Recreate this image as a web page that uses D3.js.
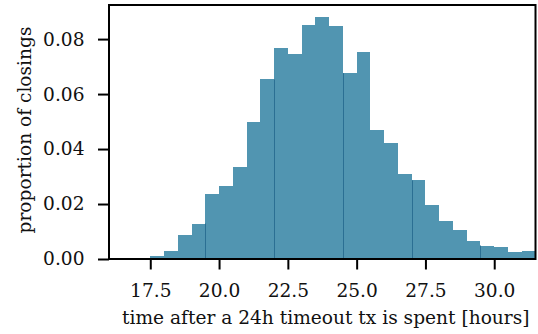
<!DOCTYPE html>
<html><head><meta charset="utf-8">
<script src="https://cdn.jsdelivr.net/npm/d3@7"></script>
<style>
html,body{margin:0;padding:0;background:#fff;}
svg{display:block;font-family:"DejaVu Serif",serif;}
</style></head>
<body>
<svg id="chart" width="538" height="334"></svg>
<script>
// Histogram bins (start of bin, hours), width 0.5
const binStarts = [17.0,17.5,18.0,18.5,19.0,19.5,20.0,20.5,21.0,21.5,22.0,22.5,23.0,23.5,24.0,24.5,25.0,25.5,26.0,26.5,27.0,27.5,28.0,28.5,29.0,29.5,30.0,30.5,31.0];
const binWidth = 0.5;
const proportions = [0.0005,0.0012,0.0030,0.0086,0.0129,0.0238,0.0267,0.0333,0.0497,0.0653,0.0767,0.0746,0.0851,0.0881,0.0847,0.0676,0.0753,0.0468,0.0421,0.0308,0.0286,0.0198,0.0140,0.0107,0.0067,0.0049,0.0045,0.0027,0.0030];
// darker seam lines between bar groups (bin boundaries)
const seamAt = [19.5,22.0,24.5,27.0,29.5];
const xTicks = [17.5,20.0,22.5,25.0,27.5,30.0];
const yTicks = [0.00,0.02,0.04,0.06,0.08];
const xDomain = [16, 31.5];
const yDomain = [0, 0.0924];
const xLabel = "time after a 24h timeout tx is spent [hours]";
const yLabel = "proportion of closings";

const svg = d3.select("#chart");
const L = 109, R = 535.5, T = 5, B = 259;
const x = d3.scaleLinear().domain(xDomain).range([L, R]);
const y = d3.scaleLinear().domain(yDomain).range([B, T]);
const barColor = "#5195b1";
const seamColor = "#2b6f93";

const data = binStarts.map((s,i)=>({s, v:proportions[i]}));
svg.append("g").selectAll("rect").data(data).join("rect")
  .attr("x", d=>x(d.s))
  .attr("width", d=>x(d.s+binWidth)-x(d.s))
  .attr("y", d=>y(d.v))
  .attr("height", d=>y(0)-y(d.v))
  .attr("fill", barColor)
  .attr("shape-rendering","crispEdges");

// seams
svg.append("g").selectAll("line").data(seamAt).join("line")
  .attr("x1", d=>Math.round(x(d))+0.5).attr("x2", d=>Math.round(x(d))+0.5)
  .attr("y1", y(0))
  .attr("y2", d=>{
    const i = binStarts.findIndex(s=>Math.abs(s-d)<1e-9);
    return y(Math.min(proportions[i-1], proportions[i]));
  })
  .attr("stroke", seamColor).attr("stroke-width",1);

// axes
const fs = 18.6;
const xAxis = d3.axisBottom(x).tickValues(xTicks).tickFormat(d3.format(".1f"))
  .tickSize(10.5).tickSizeOuter(0).tickPadding(6);
const gx = svg.append("g").attr("transform",`translate(0,${B})`).call(xAxis);
const yAxis = d3.axisLeft(y).tickValues(yTicks).tickFormat(d3.format(".2f"))
  .tickSize(11).tickSizeOuter(0).tickPadding(13.5);
const gy = svg.append("g").attr("transform",`translate(${L},0)`).call(yAxis);
[gx,gy].forEach(g=>{
  g.select(".domain").remove();
  g.selectAll(".tick line").attr("stroke","#000").attr("stroke-width",2);
  g.selectAll(".tick text").attr("fill","#111").style("font-size",fs+"px")
   .style("font-family","'DejaVu Serif', serif");
});
gx.selectAll(".tick text").attr("dy",null).attr("y",null)
  .attr("dominant-baseline",null).attr("transform",null)
  .attr("y", 38);

// frame
svg.append("rect").attr("x",L).attr("y",T).attr("width",R-L).attr("height",B-T)
  .attr("fill","none").attr("stroke","#000").attr("stroke-width",2);

// labels
svg.append("text").attr("x",(L+R)/2+3.5).attr("y",324).attr("text-anchor","middle")
  .style("font-size",fs+"px").attr("fill","#111").text(xLabel);
svg.append("text").attr("transform",`translate(31,${(T+B)/2-2}) rotate(-90)`)
  .attr("text-anchor","middle").style("font-size",fs+"px").attr("fill","#111").text(yLabel);
</script>
</body></html>
